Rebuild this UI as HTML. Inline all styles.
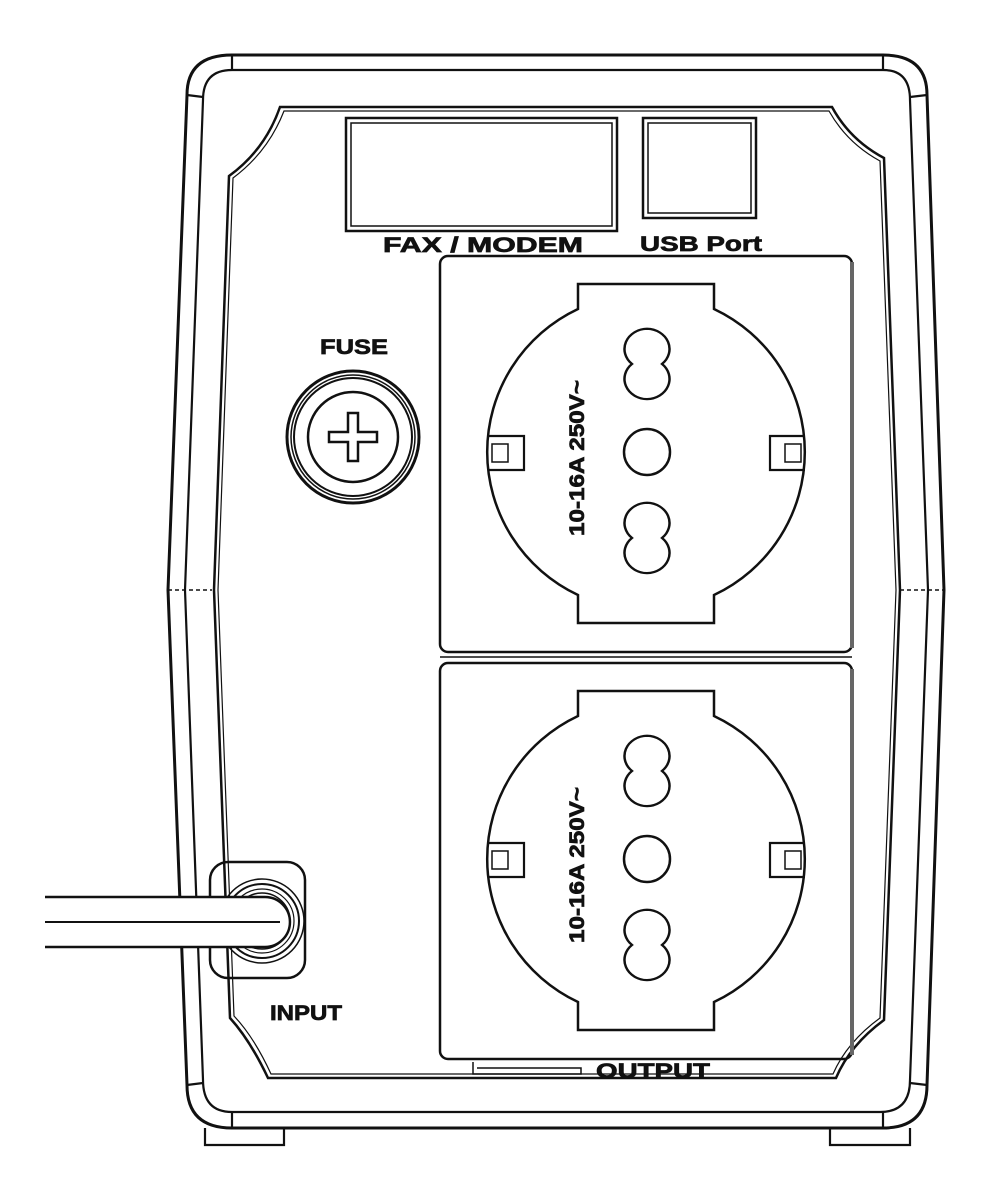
<!DOCTYPE html>
<html><head><style>html,body{margin:0;padding:0;background:#fff}svg{display:block}
text{font-family:"Liberation Sans",sans-serif;font-weight:bold;fill:#111;stroke:#111;stroke-width:0.7}</style></head>
<body>
<svg width="991" height="1200" viewBox="0 0 991 1200" xmlns="http://www.w3.org/2000/svg" fill="none" stroke="#111" stroke-width="2.2">
<!-- outer body -->
<path d="M232,55 L883,55 Q927,55 927,95 L944,590 L927,1085 Q927,1128 883,1128 L232,1128 Q187,1128 187,1085 L168,590 L187,95 Q187,55 232,55 Z" stroke-width="3"/>
<path d="M232,70 L883,70 Q910,70 910,100 L928,590 L910,1080 Q910,1112 880,1112 L232,1112 Q203,1112 203,1080 L185,590 L203,100 Q203,70 232,70 Z"/>
<line x1="232" y1="55" x2="232" y2="70"/><line x1="883" y1="55" x2="883" y2="70"/>
<line x1="187" y1="95" x2="203" y2="97"/><line x1="927" y1="95" x2="910" y2="97"/>
<line x1="187" y1="1085" x2="203" y2="1083"/><line x1="927" y1="1085" x2="910" y2="1083"/>
<line x1="232" y1="1112" x2="232" y2="1128"/><line x1="883" y1="1112" x2="883" y2="1128"/>
<line x1="168" y1="590" x2="212" y2="590" stroke-dasharray="4 3" stroke-width="1.5"/>
<line x1="900" y1="590" x2="944" y2="590" stroke-dasharray="4 3" stroke-width="1.5"/>
<!-- feet -->
<path d="M205,1128 L205,1145 L284,1145 L284,1128"/>
<path d="M830,1128 L830,1145 L910,1145 L910,1128"/>
<!-- inner panel -->
<path d="M280,107 L832,107 Q850,140 884,158 L900,590 L884,1020 Q850,1045 836,1078 L268,1078 Q250,1040 230,1018 L214,590 L229,176 Q265,150 280,107 Z" stroke-width="2.5"/>
<path d="M284,111 L829,111 Q847,143 880,161 L896,590 L880,1018 Q847,1042 833,1074 L271,1074 Q254,1037 234,1016 L218,590 L233,178 Q268,152 284,111 Z" stroke-width="1.2"/>
<!-- FAX / USB -->
<rect x="346" y="118" width="271" height="113" stroke-width="2.5"/>
<rect x="351" y="123" width="261" height="103" stroke-width="1.5"/>
<rect x="643" y="118" width="113" height="100" stroke-width="2.5"/>
<rect x="648" y="123" width="103" height="90" stroke-width="1.5"/>
<text x="383" y="252" font-size="21" textLength="200" lengthAdjust="spacingAndGlyphs">FAX / MODEM</text>
<text x="640" y="251" font-size="21" textLength="122" lengthAdjust="spacingAndGlyphs">USB  Port</text>
<!-- fuse -->
<text x="320" y="354" font-size="21" textLength="68" lengthAdjust="spacingAndGlyphs">FUSE</text>
<circle cx="353" cy="437" r="66" stroke-width="3"/>
<circle cx="353" cy="437" r="62" stroke-width="1.5"/>
<circle cx="353" cy="437" r="59" stroke-width="2"/>
<circle cx="353" cy="437" r="45" stroke-width="2.5"/>
<path d="M348,413 h10 v19 h19 v10 h-19 v19 h-10 v-19 h-19 v-10 h19 Z" stroke-width="2.5"/>
<!-- sockets -->
<g id="sock">
<rect x="440" y="256" width="412" height="396" rx="8" stroke-width="2.5"/>
<line x1="852" y1="262" x2="852" y2="648" stroke-width="4" stroke="#666"/>
<path d="M578,309 L578,284 L714,284 L714,309 A158,158 0 0 1 714,595 L714,623 L578,623 L578,595 A158,158 0 0 1 578,309 Z" stroke-width="2.5"/>
<path d="M647,331 a23,23 0 0 1 15,40 a23,23 0 0 1 -15,40 a23,23 0 0 1 -15,-40 a23,23 0 0 1 15,-40 Z" transform="translate(0,-3) scale(1,0.88) translate(0,46)" stroke-width="2.5"/>
<circle cx="647" cy="452" r="23" stroke-width="2.5"/>
<path d="M647,331 a23,23 0 0 1 15,40 a23,23 0 0 1 -15,40 a23,23 0 0 1 -15,-40 a23,23 0 0 1 15,-40 Z" transform="translate(0,171) scale(1,0.88) translate(0,46)" stroke-width="2.5"/>
<path d="M489,436 h35 v34 h-35" stroke-width="2.2"/>
<rect x="492" y="444" width="16" height="18" stroke-width="1.5"/>
<path d="M805,436 h-35 v34 h35" stroke-width="2.2"/>
<rect x="785" y="444" width="16" height="18" stroke-width="1.5"/>
<text transform="translate(584,536) rotate(-90)" font-size="21" textLength="156" lengthAdjust="spacingAndGlyphs">10-16A  250V~</text>
</g>
<use href="#sock" transform="translate(0,407)"/>
<line x1="440" y1="657" x2="852" y2="657" stroke-width="1.5"/>
<path d="M473,1062 v12 h108 v-6 h-104" stroke-width="1.5"/>
<text x="596" y="1078" font-size="21" textLength="114" lengthAdjust="spacingAndGlyphs">OUTPUT</text>
<!-- input -->
<rect x="210" y="862" width="95" height="116" rx="18" stroke-width="2.5"/>
<circle cx="262" cy="921" r="42" stroke-width="1.5"/>
<circle cx="262" cy="921" r="37" stroke-width="2"/>
<circle cx="262" cy="921" r="32" stroke-width="1.2"/>
<circle cx="262" cy="921" r="28" stroke-width="1.5"/>
<path d="M45,897 L265,897 A25,25 0 0 1 265,947 L45,947" fill="#fff" stroke-width="2.5"/>
<line x1="45" y1="922" x2="280" y2="922" stroke-width="2"/>
<text x="270" y="1020" font-size="21" textLength="72" lengthAdjust="spacingAndGlyphs">INPUT</text>
</svg>
</body></html>
